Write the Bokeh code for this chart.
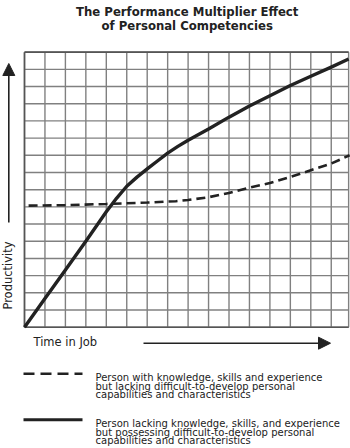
from math import pi
from bokeh.plotting import figure
from bokeh.models import Range1d, Arrow, NormalHead
from bokeh.core.properties import value
from bokeh.embed import file_html
from bokeh.resources import INLINE

# ---- data (x: time-in-job units = grid columns, y: productivity units = grid rows)
solid_time = [0, 1, 2, 3, 4, 4.5, 5, 5.5, 6, 6.5, 7, 7.5, 8, 9, 10, 11, 12, 13,
              14, 15, 15.85]
solid_prod = [0, 1.67, 3.33, 5.0, 6.72, 7.5, 8.2, 8.73, 9.21, 9.67, 10.13,
              10.52, 10.88, 11.53, 12.22, 12.87, 13.46, 14.06, 14.6, 15.13, 15.6]
dash_time = [0.2, 2, 4, 6, 7.4, 8, 9, 10, 11, 12, 13, 14, 15, 15.9]
dash_prod = [7.07, 7.1, 7.17, 7.25, 7.33, 7.4, 7.56, 7.81, 8.12, 8.39, 8.74,
             9.13, 9.52, 10.0]
grid_x = [0, 1, 2, 3, 4, 5, 6, 7, 8, 9, 10, 11, 12, 13, 14, 15, 15.85]
grid_y = [0, 1, 2, 3, 4, 5, 6, 7, 8, 9, 10, 11, 12, 13, 14, 15, 16]
title_lines = ["The Performance Multiplier Effect", "of Personal Competencies"]
y_label = "Productivity"
x_label = "Time in Job"
legend_dashed = ["Person with knowledge, skills and experience",
                 "but lacking difficult-to-develop personal",
                 "capabilities and characteristics"]
legend_solid = ["Person lacking knowledge, skills, and experience",
                "but possessing difficult-to-develop personal",
                "capabilities and characteristics"]

# ---- layout: pixel -> data mapping helpers
W, H = 350, 448
X0, DX = 24.0, 20.45
Y0, DY = 326.7, 17.19


def X(px):
    return (px - X0) / DX


def Y(py):
    return (Y0 - py) / DY


p = figure(width=W, height=H, output_backend="svg", toolbar_location=None,
           x_range=Range1d(X(0), X(W)), y_range=Range1d(Y(H), Y(0)),
           x_axis_location=None, y_axis_location=None, min_border=0)
p.grid.visible = False
p.outline_line_color = None
p.background_fill_color = "white"
p.border_fill_color = "white"

INK = "#222222"
GRID = "#808080"
FONT = value("DejaVu Sans")
xmax = grid_x[-1]
ymax = grid_y[-1]

# grid
p.segment(x0=grid_x, y0=0, x1=grid_x, y1=ymax, line_color=GRID, line_width=1.4)
p.segment(x0=0, y0=grid_y, x1=xmax, y1=grid_y, line_color=GRID, line_width=1.4)
p.segment(x0=[0, 0, 0], y0=[0, 0, ymax], x1=[0, xmax, xmax], y1=[ymax, 0, ymax],
          line_color="#555555", line_width=1.6)

# series
p.line(dash_time, dash_prod, line_color=INK, line_width=2.6, line_dash="9 5")
p.line(solid_time, solid_prod, line_color=INK, line_width=3.4, line_join="round")

# title
p.text(x=[X(186.7)] * 2, y=[Y(11.5), Y(25.5)], text=title_lines,
       text_align="center", text_baseline="alphabetic", text_font=FONT,
       text_font_style="bold", text_font_size="11.7px", text_color=INK)

# axis arrows and labels
p.add_layout(Arrow(end=NormalHead(size=12, fill_color=INK, line_color=INK),
                   x_start=X(8.3), y_start=Y(222), x_end=X(8.3), y_end=Y(63),
                   line_color=INK, line_width=1.6))
p.add_layout(Arrow(end=NormalHead(size=12, fill_color=INK, line_color=INK),
                   x_start=X(143), y_start=Y(342.7), x_end=X(330), y_end=Y(342.7),
                   line_color=INK, line_width=1.6))
p.text(x=[X(7.5)], y=[Y(275)], text=[y_label], angle=pi / 2, text_align="center",
       text_baseline="middle", text_font=FONT, text_font_size="11.5px",
       text_color=INK)
p.text(x=[X(33)], y=[Y(341)], text=[x_label], text_align="left",
       text_baseline="middle", text_font=FONT, text_font_size="11.5px",
       text_color=INK)

# legend
p.line([X(23), X(82)], [Y(373.3)] * 2, line_color=INK, line_width=2.6,
       line_dash="11 6")
p.line([X(23), X(82)], [Y(419.3)] * 2, line_color=INK, line_width=3.0)
p.text(x=[X(95)] * 3, y=[Y(377.3), Y(385.7), Y(394)], text=legend_dashed,
       text_align="left", text_baseline="alphabetic", text_font=FONT,
       text_font_size="10px", text_color=INK)
p.text(x=[X(95)] * 3, y=[Y(423.3), Y(431.7), Y(440)], text=legend_solid,
       text_align="left", text_baseline="alphabetic", text_font=FONT,
       text_font_size="10px", text_color=INK)

open("out.html", "w").write(file_html(p, INLINE))
